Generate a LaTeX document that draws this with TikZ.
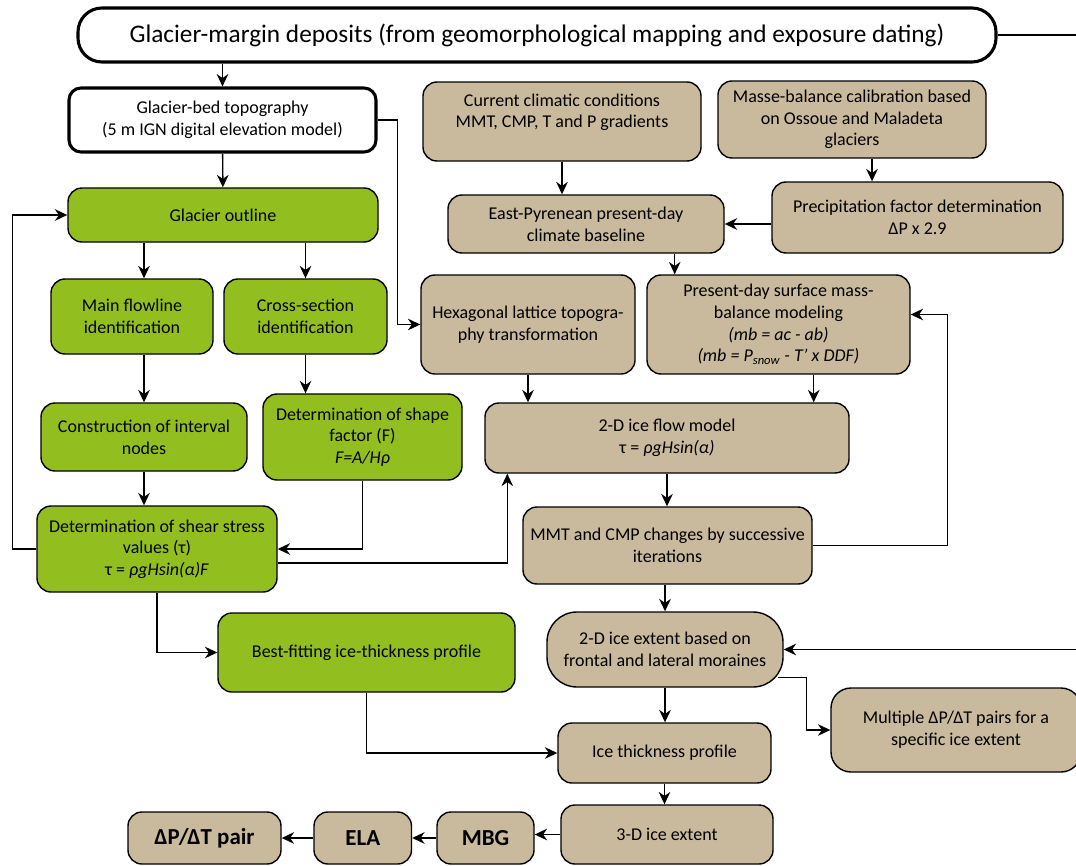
\documentclass[tikz,border=0pt]{standalone}
\usepackage{fontspec}
\setmainfont{Carlito}
\usetikzlibrary{arrows.meta,positioning,calc}
\definecolor{tanfill}{RGB}{201,186,157}
\definecolor{leafgreen}{RGB}{146,191,31}

\begin{document}
\begin{tikzpicture}[
    >={Stealth[length=3.1mm,width=2.9mm]},
    font=\fontsize{12.8}{15.4}\selectfont,
    base/.style={
        draw=black,
        line width=1pt,
        rounded corners=3.5mm,
        align=center,
        inner sep=2pt
    },
    tanbox/.style={base, fill=tanfill},
    greenbox/.style={base, fill=leafgreen},
    whitebox/.style={base, fill=white, line width=2.2pt},
    result/.style={
        tanbox,
        font=\fontsize{16.3}{19}\selectfont\bfseries,
        minimum height=1.3cm
    },
    arr/.style={->, line width=1pt}
]
\useasboundingbox (0,0) rectangle (26.9,-21.65);
\clip (0,0) rectangle (26.9,-21.65);

% inputs
\node[whitebox, rounded corners=6mm, minimum width=22.95cm, minimum height=1.35cm,
      font=\fontsize{18}{21}\selectfont] (deposits) at (13.425,-0.875)
{Glacier-margin deposits (from geomorphological mapping and exposure dating)};

\node[whitebox, rounded corners=3mm, minimum width=7.675cm, minimum height=1.6cm] (bed) at (5.5625,-3.0)
{Glacier-bed topography\\(5 m IGN digital elevation model)};

\node[tanbox, minimum width=6.95cm, minimum height=1.975cm] (climate) at (14.05,-3.0375)
{Current climatic conditions\\MMT, CMP, T and P gradients\\\mbox{}};

\node[tanbox, minimum width=6.7cm, minimum height=1.925cm] (calib) at (21.3,-2.9875)
{Masse-balance calibration based\\on Ossoue and Maladeta\\glaciers};

% green column (glacier geometry)
\node[greenbox, minimum width=7.75cm, minimum height=1.35cm] (outline) at (5.575,-5.375)
{Glacier outline};

\node[greenbox, minimum width=4.05cm, minimum height=1.875cm] (flowline) at (3.3,-7.9125)
{Main flowline\\identification};

\node[greenbox, minimum width=4.075cm, minimum height=1.875cm] (xsection) at (7.6375,-7.9125)
{Cross-section\\identification};

\node[greenbox, minimum width=5.15cm, minimum height=1.7cm] (intervals) at (3.6,-10.925)
{Construction of interval\\nodes};

\node[greenbox, minimum width=4.975cm, minimum height=2.15cm] (shape) at (9.0625,-10.925)
{Determination of shape\\factor (F)\\\textit{F=A/Hρ}};

\node[greenbox, minimum width=6.0cm, minimum height=2.15cm] (shear) at (3.925,-13.725)
{Determination of shear stress\\values (τ)\\τ = \textit{ρgHsin(α)F}};

\node[greenbox, minimum width=7.425cm, minimum height=1.975cm] (bestfit) at (9.1625,-16.3125)
{Best-fitting ice-thickness profile};

% tan column (climate and ice flow)
\node[tanbox, minimum width=6.9cm, minimum height=1.45cm] (baseline) at (14.65,-5.6)
{East-Pyrenean present-day\\climate baseline};

\node[tanbox, minimum width=7.275cm, minimum height=1.775cm] (precip) at (22.9375,-5.4375)
{Precipitation factor determination\\ΔP x 2.9};

\node[tanbox, minimum width=5.35cm, minimum height=2.475cm] (lattice) at (13.2,-8.1125)
{Hexagonal lattice topogra-\\phy transformation};

\node[tanbox, minimum width=6.575cm, minimum height=2.475cm] (massbal) at (19.4625,-8.1125)
{Present-day surface mass-\\balance modeling\\\textit{(mb = ac - ab)}\\\textit{(mb = P\textsubscript{snow} - T' x DDF)}};

\node[tanbox, minimum width=9.1cm, minimum height=1.75cm] (flow) at (16.675,-10.95)
{2-D ice flow model\\τ = \textit{ρgHsin(α)}};

\node[tanbox, minimum width=7.225cm, minimum height=1.925cm] (iter) at (16.6875,-13.6375)
{MMT and CMP changes by successive\\iterations};

\node[tanbox, rounded corners=7.5mm, minimum width=5.9cm, minimum height=1.875cm] (extent) at (16.625,-16.2375)
{2-D ice extent based on\\frontal and lateral moraines};

\node[tanbox, rounded corners=5mm, minimum width=6.25cm, minimum height=2.1cm] (pairs) at (23.9,-18.25)
{Multiple ΔP/ΔT pairs for a\\specific ice extent};

\node[tanbox, minimum width=5.325cm, minimum height=1.5cm] (thickprof) at (16.6125,-18.825)
{Ice thickness profile};

\node[tanbox, minimum width=5.3cm, minimum height=1.475cm] (extent3d) at (16.675,-20.8625)
{3-D ice extent};

% bottom row
\node[result, minimum width=2.425cm] (mbg) at (12.1375,-20.95) {MBG};
\node[result, minimum width=2.4375cm] (ela) at (9.06875,-20.95) {ELA};
\node[result, minimum width=3.825cm] (pair) at (5.1125,-20.95) {ΔP/ΔT pair};

% glacier geometry
\draw[arr] (deposits.south -| bed.north) -- (bed.north);
\draw[arr] (bed) -- (outline);
\draw[arr] (bed.east) -- ++(0.5,0) |- (lattice.west);
\draw[arr] (outline.south -| intervals.north) -- (flowline.north -| intervals.north);
\draw[arr] (outline.south -| xsection.north) -- (xsection.north);
\draw[arr] (flowline.south -| intervals.north) -- (intervals.north);
\draw[arr] (xsection.south) -- (xsection.south |- shape.north);
\draw[arr] (intervals.south) -- (intervals.south |- shear.north);
\draw[arr] (shape.south) |- (shear.east);
\draw[arr] ([yshift=-0.35cm]shear.east) -| ([xshift=0.575cm]flow.south west);
\draw[arr] (shear.west) -- ++(-0.6,0) |- (outline.west);
\draw[arr] (shear.south) |- (bestfit.west);
\draw[arr] (bestfit.south) |- (thickprof.west);

% climate and ice flow
\draw[arr] (climate.south) -- (climate.south |- baseline.north);
\draw[arr] ([xshift=0.5cm]calib.south) -- ([xshift=0.5cm]calib.south |- precip.north);
\draw[arr] (baseline.east -| precip.west) -- (baseline.east);
\draw[arr] ([xshift=-1.25cm]baseline.south east) -- ([xshift=-1.25cm]baseline.south east |- massbal.north);
\draw[arr] (lattice.south) -- (lattice.south |- flow.north);
\draw[arr] ([xshift=-0.9cm]flow.north east |- massbal.south) -- ([xshift=-0.9cm]flow.north east);
\draw[arr] (flow.south) -- (flow.south |- iter.north);
\draw[arr] (iter.east) -- ++(3.375,0) |- ([yshift=0.25cm]massbal.east);
\draw[arr] (iter.south -| extent.north) -- (extent.north);
\draw[arr] (deposits.east) -- ++(2.5,0) |- (extent.east);
\draw[arr] ([shift={(-0.15,-0.7)}]extent.east) -- ++(0.725,0) |- (pairs.west);
\draw[arr] (extent.south) -- (extent.south |- thickprof.north);
\draw[arr] (thickprof.south) -- (thickprof.south |- extent3d.north);
\draw[arr] (extent3d.west) -- (extent3d.west -| mbg.east);
\draw[arr] (mbg) -- (ela);
\draw[arr] (ela) -- (pair);

\end{tikzpicture}
\end{document}
